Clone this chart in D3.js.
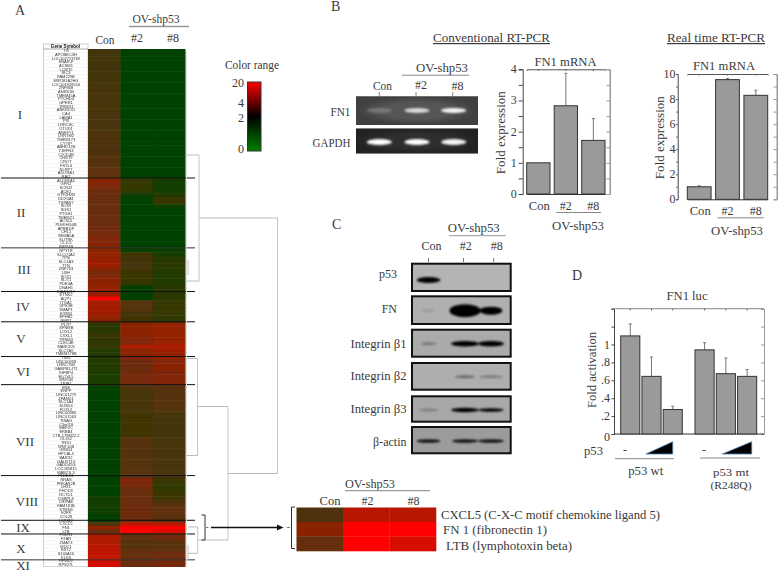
<!DOCTYPE html>
<html><head><meta charset="utf-8">
<script src="https://cdn.jsdelivr.net/npm/d3@7/dist/d3.min.js"></script>
<style>html,body{margin:0;padding:0;background:#fff}svg{display:block}</style></head>
<body><svg id="c" width="778" height="574"></svg>
<script>
// ---------- DATA ----------
const samples = ["Con","#2","#8"];
const geneSymbols = ["TG","APOBEC3H","LOC102723769","SNAR-F","ACSM1","LCMT2","RIC3","FAM229B","MIR181A2HG","LOC101928516","ZNF808","ANKS1B","TMEM45A","PTCHD4","GPER1","TRIM31","ANKRD31","CA4","LAMA1","PI3","LRRC8C","OTUD1","ANKFY1","LRRTM2","TMEM173","CYTIP","ABHD12B","YJEFN3","C2CD4B","CHST9","CROT","FSTL4","NLRP7","ADORA1","RAI2",
"ALDH1A1","GPR2","KCNJ2","ACE2","GTF2H2B","DDX3A1","TSPAN7","SOX9","SGK1","PTGS1","TMEM21","ACSL5","PLEKHG4B","APBB1IP","CHL1","SEMA5A","SLITRK","CLIC5","INPP4B",
"NPY1R","SLCO1A2","TPI0","SLC1A3","TTN","ZNF703","LBH","SOX1","SLIT1","PDE4A","DNAH5","KIAA1217",
"ETNK2","AQP1","ITGA2","UPK3B","SMAP1","E3S84","EPHB2","BMP7",
"PLTP","GPNMB","LOXL2","CXXL1","TRNM3","CLEC4E","MARCKS","SLC7A9","TMEM178B","TSS1",
"LINC00958","LRRC75B","GABPB1-IT1","IGFBP4","ELOVL5","WNT5B","TRIB1",
"ENE","ENPP","LINC01279","ZFAND1","SLC1A4","SUSD4","FOXL2","LINC00886","LINC01563","TINAG","C3orf18","MEF2C","ERBB4","CTB-178M22.2","OLIG2","TNS1","WNT10B","GRB14","HPCAL4","BARX2","GALNT13","GADD45G","LOC285815","MAB21L3","PLXDC1",
"NRAS","PRKAR2B","LHX1","FHOD3","RCTD1","DSBPL8","CRIPAK","FAM181B","STMN3","E2F8","COL28","LMNB2",
"CXCL5","FN1","LTB",
"FOLR1","FZAR","ZMAT3","MUC1","BST2","S100A16","KLK6",
"RFWD2","RPS27L"];
const conValues = [1.2,1.2,1.2,1.2,1.2,1.2,1.2,1.2,1.2,1.3,1.3,1.3,1.3,1.3,1.3,1.3,1.3,1.4,1.4,1.4,1.4,1.4,1.5,1.5,1.5,1.5,1.5,1.5,1.5,1.6,1.6,1.7,1.9,2,2,
3,2.8,2.6,2.3,2.2,2.2,2.2,2.2,2.2,2.2,2.2,2.2,2.3,2.3,2.5,2.6,2.8,2.8,3,
3,3.2,3.2,3.5,3.5,3,2.5,2.8,3,3,3.3,3.3,
3.5,20,3.6,3.6,3.8,3.5,3.3,3,
.7,.7,.7,1,.8,.8,.9,.6,.6,.6,
.6,.6,.6,.5,.5,.5,.5,
0,0,0,0,0,0,0,0,0,0,0,0,0,0,0,0,0,0,0,0,0,0,0,0,0,
0,0,0,0,.1,.3,.3,.3,.2,.2,0,0,
1.5,3.2,2.1,
4,4,4,4.5,4.5,5,5,
7,7];
const shp2Values = [0,0,0,0,0,0,0,0,0,0,0,0,0,0,0,0,0,0,0,0,0,0,0,0,0,0,0,0,0,0,0,0,0,0,0,
.9,.9,.9,.8,.2,0,0,0,0,0,0,0,0,0,0,0,0,0,0,
.2,1.1,1.2,1.2,1.2,1.2,1,1,1,.8,0,.1,
.1,.1,1.7,1.7,1.7,1.2,1.1,1.1,
3,3,3.1,3,2.8,2.8,4,3,3,2.8,
2.3,2.3,2.2,2.4,2.5,2.5,2.6,
1.6,1.3,1.3,1.3,1.3,1.3,1.3,1.2,1.1,1.1,1.1,1.1,1.1,1.1,1.7,1.7,1.6,1.6,1.6,1.6,1.6,1.7,1.7,1.7,1.7,
2.7,2.7,2.4,2.2,2.2,2.2,2.2,2.3,2.3,2.3,2.3,2.3,
4.5,20,20,
2,2,1.6,1.6,2,2.1,2.1,
2.2,2.2];
const shp8Values = [0,0,0,0,0,0,0,0,0,0,0,0,0,0,0,0,0,0,0,0,0,0,0,0,0,0,0,0,0,0,0,0,0,0,0,
.3,.3,.3,.3,.6,.9,.9,.2,0,0,0,0,0,0,0,0,0,0,0,
.2,.3,.6,.7,.7,.7,.6,.6,.6,.6,.7,.7,
.7,.7,.9,.9,1,.9,.8,.8,
3.3,3.3,3.2,3.2,3.2,3.4,4,3.5,3.3,3.2,
2.8,3,3,2.7,2.8,2.8,2.8,
1.8,1.6,1.6,1.8,1.8,1.8,1.6,1.3,1.3,1.2,1.2,1.2,1.2,1.2,1.3,1.3,1.3,1.3,1.3,1.4,1.4,1.4,1.4,1.4,1.4,
1,.9,.8,.9,1,1,1.5,1.8,2,2,1.8,1.6,
4.5,20,9,
2.3,2.3,1.8,1.7,2,2.3,2.3,
2.5,2.5];
const heatLevels = [0,1,2,3,4,6,20];
const heatColors = ["#004100","#3b3606","#61300a","#8a2406","#b01a04","#d01000","#ff0000"];
const sectionNames = ["I","II","III","IV","V","VI","VII","VIII","IX","X","XI"];
const sectionEnds = [34.9,53.8,65.6,73.8,83.2,90.8,115.4,127.5,131.2,138.2];
const legendValues = [0,2,4,20];
const insetGenes = ["CXCL5 (C-X-C motif chemokine ligand 5)","FN 1 (fibronectin 1)","LTB (lymphotoxin beta)"];
const insetCon = [1.5,3,2.1], insetShp2 = [4.5,20,20], insetShp8 = [4.5,20,8];

const gelNames = ["FN1","GAPDH"];
const gelFN1 = [.22,.78,.95], gelGAPDH = [1,1,.95];

const conventionalCats = ["Con","#2","#8"];
const conventionalMean = [1,2.83,1.72];
const conventionalUpper = [1,3.87,2.42];
const realtimeMean = [1,9.55,8.3];
const realtimeUpper = [1.08,9.65,8.7];

const blotNames = ["p53","FN","Integrin β1","Integrin β2","Integrin β3","β-actin"];
const blotIntensity = [[1,0,0],[.1,1,1],[.3,1,1],[0,.4,.3],[.25,1,1],[.9,.9,.9]];
const blotThickness = [[6,0,0],[4,13,8],[3,5.5,5.5],[0,3,3],[3,4.5,3.5],[3.5,3.5,3.5]];
const blotWidth = [[24,0,0],[14,31,23],[16,28,26],[0,21,24],[20,28,25],[24,26,26]];

const lucCats = ["-","low","high"];
const lucWt = [1.096,.644,.274], lucWtUpper = [1.23,.86,.31];
const lucMt = [.94,.674,.644], lucMtUpper = [1.02,.85,.72];
const lucTicks = [0,.2,.4,.6,.8,1,1.2,1.4];
const lucTickNames = ["0",".2",".4",".6",".8","1","",""];

// ---------- HELPERS ----------
const svg = d3.select("#c");
const defs = svg.append("defs");
const SERIF = "'Liberation Serif',serif", INK = "#3a3a3a";
function T(g,x,y,s,o={}){
  const e = g.append("text").attr("x",x).attr("y",y).text(s)
    .attr("font-family",o.font||SERIF).attr("font-size",o.size||12)
    .attr("fill",o.fill||INK).attr("text-anchor",o.anchor||"start");
  if(o.w) e.attr("textLength",o.w).attr("lengthAdjust","spacingAndGlyphs");
  if(o.rot) e.attr("transform",`rotate(${o.rot} ${x} ${y})`);
  if(o.deco) e.attr("text-decoration",o.deco);
  return e;
}
function L(g,x1,y1,x2,y2,c="#999",w=1){
  g.append("line").attr("x1",x1).attr("y1",y1).attr("x2",x2).attr("y2",y2).attr("stroke",c).attr("stroke-width",w);
}
[["b05",.4],["b1",1],["b15",1.5],["b2",2.2]].forEach(([id,s])=>{
  defs.append("filter").attr("id",id).attr("x","-30%").attr("y","-60%").attr("width","160%").attr("height","220%")
    .append("feGaussianBlur").attr("stdDeviation",s);
});
const heat = d3.scaleLinear().domain(heatLevels).range(heatColors).clamp(true);

// ---------- PANEL LETTERS ----------
[["A",15,15],["B",331,11],["C",332,229],["D",572,280]].forEach(d=>T(svg,d[1],d[2],d[0],{size:14}));

// ---------- PANEL A ----------
const A = svg.append("g");
const rowY = d3.scaleLinear().domain([0,geneSymbols.length]).range([49,566.5]);
const colX = d3.scaleBand().domain(samples).range([88,185]);
const labelsG = A.append("g").attr("filter","url(#b05)");
labelsG.append("rect").attr("x",43.5).attr("y",44).attr("width",44.5).attr("height",522.5).attr("fill","#fff").attr("stroke","#bbb").attr("stroke-width",.7);
L(labelsG,43.5,49,88,49,"#888",.7);
geneSymbols.forEach((g,i)=>{
  L(labelsG,44,rowY(i+1),88,rowY(i+1),"#e6e6e6",.4);
  T(labelsG,66,rowY(i+.5)+1.4,g,{size:4,font:"'Liberation Sans',sans-serif",anchor:"middle",fill:"#333"});
});
T(labelsG,65.5,48.2,"Gene Symbol",{size:4.6,font:"'Liberation Sans',sans-serif",anchor:"middle",fill:"#111"}).attr("font-weight","bold");
const heatG = A.append("g").attr("filter","url(#b05)");
[conValues,shp2Values,shp8Values].forEach((vals,c)=>{
  heatG.selectAll(null).data(vals).enter().append("rect")
    .attr("x",colX(samples[c])).attr("width",colX.bandwidth()+.5)
    .attr("y",(d,i)=>rowY(i)).attr("height",rowY(1)-rowY(0)+.5)
    .attr("fill",d=>heat(d));
});
sectionEnds.forEach((s,i)=>L(A,1,rowY(s),195,rowY(s),i===1||i===9?"#333":"#111",1));
const romanX=[20,21,24,23,21,23,25,27,23,21,23], romanY=[115,213,270,307,339,372,442,502,528,549,566];
sectionNames.forEach((n,i)=>T(A,romanX[i],romanY[i]+4,n,{anchor:"middle",size:13}));
T(A,156,23,"OV-shp53",{anchor:"middle",w:47,size:12});
L(A,129,26.5,189,26.5,"#999",1.3);
T(A,105,44,"Con",{anchor:"middle",w:19});
T(A,137,42,"#2",{anchor:"middle"});T(A,173,42,"#8",{anchor:"middle"});
// dendrogram
const dg = A.append("g");
[[186,155,199,155],[199,155,199,281],[186,281,199,281],[199,218,277.5,218],[277.5,218,277.5,473.5],
 [228,473.5,277.5,473.5],[228,406.5,228,540],[197.5,406.5,228,406.5],[197.5,358.5,197.5,455.5],[187,358.5,197.5,358.5],[187,455.5,197.5,455.5],
 [197.7,540,228,540],[197.7,527,197.7,553.3],[188,527,197.7,527],[188,553.3,197.7,553.3],[188,260,188,275],[188,545,188,560]]
 .forEach(d=>L(dg,d[0],d[1],d[2],d[3],d[1]===d[3]?"#bbb":"#c4c4c4",1));
L(dg,186.5,52,186.5,566,"#e0e0e0",1);
// colour legend
const grad = defs.append("linearGradient").attr("id","lg").attr("x1",0).attr("x2",0).attr("y1",0).attr("y2",1);
[["0%","#ff0000"],["50%","#000"],["100%","#008000"]].forEach(d=>grad.append("stop").attr("offset",d[0]).attr("stop-color",d[1]));
T(A,252,69,"Color range",{anchor:"middle",w:54});
A.append("rect").attr("x",247.5).attr("y",82).attr("width",13.5).attr("height",69).attr("fill","url(#lg)").attr("stroke","#333").attr("stroke-width",1);
const legendY = d3.scaleOrdinal().domain(legendValues).range([149,118,103,83]);
legendValues.forEach(v=>T(A,244,legendY(v)+4,v,{anchor:"end"}));
// bracket + arrow + inset
L(A,201.5,515,205,515,"#333");L(A,205,515,205,540,"#333");L(A,201.5,540,205,540,"#333");
L(A,206,527.5,208.5,527.5,"#777");L(A,211,527.5,279,527.5,"#111",1.3);
A.append("path").attr("d","M277 524.5L283.5 527.5L277 530.5Z").attr("fill","#111");
L(A,287,527.5,290,527.5,"#777");
L(A,295,507,291.5,507,"#333");L(A,291.5,507,291.5,548.5,"#333");L(A,291.5,548.5,295,548.5,"#333");
const inX = d3.scaleBand().domain(samples).range([296.5,436]);
const inY = d3.scaleBand().domain(insetGenes).range([507.5,551]);
const inG = A.append("g").attr("filter","url(#b05)");
[insetCon,insetShp2,insetShp8].forEach((vals,c)=>vals.forEach((v,r)=>{
  inG.append("rect").attr("x",inX(samples[c])).attr("y",inY(insetGenes[r])).attr("width",inX.bandwidth()+.3).attr("height",inY.bandwidth()+.3).attr("fill",heat(v));
}));
T(A,370,488,"OV-shp53",{anchor:"middle",w:50});
L(A,345,490.7,430,490.7,"#999",1.2);
T(A,330,505,"Con",{anchor:"middle",w:21});T(A,367.5,505,"#2",{anchor:"middle"});T(A,413.5,505,"#8",{anchor:"middle"});
const gx=[441,443,446], gw=[219,104,126], gy=[519,534,550];
insetGenes.forEach((g,i)=>T(A,gx[i],gy[i],g,{w:gw[i]}));

// ---------- PANEL B ----------
const B = svg.append("g");
T(B,433,42,"Conventional RT-PCR",{w:117,deco:"underline"});
T(B,667,42,"Real time RT-PCR",{w:98,deco:"underline"});
T(B,442,72,"OV-shp53",{anchor:"middle",w:52});
L(B,402,75.2,469,75.2,"#888",1);
T(B,382.5,90,"Con",{anchor:"middle",w:19});T(B,421,89,"#2",{anchor:"middle"});T(B,457.5,90,"#8",{anchor:"middle"});
const gelLane = d3.scalePoint().domain(samples).range([379.3,452.7]);
samples.forEach(s=>L(B,gelLane(s),92,gelLane(s),96.5,"#888",1));
const gelTop=[96.3,128.5], gelH=[28.7,25], gelFill=["#555","#2e2e2e"], gelBand=[[gelFN1,110.5],[gelGAPDH,142]], gelLabelY=[116,147];
const vg = defs.append("radialGradient").attr("id","vig");
vg.append("stop").attr("offset","55%").attr("stop-color","#000").attr("stop-opacity",0);
vg.append("stop").attr("offset","100%").attr("stop-color","#000").attr("stop-opacity",.25);
gelNames.forEach((n,i)=>{
  B.append("rect").attr("x",356).attr("y",gelTop[i]).attr("width",122).attr("height",gelH[i]).attr("fill",gelFill[i]);
  B.append("rect").attr("x",356).attr("y",gelTop[i]).attr("width",122).attr("height",gelH[i]).attr("fill","url(#vig)");
  const [vals,cy]=gelBand[i];
  const bg=B.append("g").attr("filter","url(#b1)");
  samples.forEach((s,j)=>{
    bg.append("ellipse").attr("cx",gelLane(s)+ (j?1:0)).attr("cy",cy).attr("rx",12.5).attr("ry",i?3:2.4).attr("fill","#fff").attr("fill-opacity",vals[j]);
  });
  T(B,350.5,gelLabelY[i],n,{anchor:"end",w:i?38:20});
});
function barChart(g,o){
  const y=d3.scaleLinear().domain([0,o.max]).range([o.bottom,o.top]);
  const x=d3.scaleBand().domain(conventionalCats).range(o.barRange).paddingInner(o.pad).paddingOuter(0);
  const minor=d3.range(0,o.max+.001,o.minor);
  const left=g.append("g").attr("transform",`translate(${o.left},0)`).call(d3.axisLeft(y).tickValues(minor).tickSize(o.tickLen).tickFormat(""));
  const right=g.append("g").attr("transform",`translate(${o.right},0)`).call(d3.axisLeft(y).tickValues(minor).tickSize(3.5).tickFormat(""));
  const top=g.append("g").attr("transform",`translate(0,${o.top})`).call(d3.axisBottom(x).tickSize(1.5).tickFormat(""));
  left.selectAll("path,line").attr("stroke","#444");right.selectAll("path,line").attr("stroke","#999");top.selectAll("path,line").attr("stroke","#555");
  const bot=g.append("g").attr("transform",`translate(0,${o.bottom})`).call(d3.axisBottom(x).tickSize(0).tickFormat(""));
  bot.selectAll("path").attr("stroke","#333");
  L(g,o.right,o.top,o.right,o.bottom,"#999",1);
  o.majors.forEach(v=>T(g,o.left-o.labelOff,y(v)+4,v,{anchor:"end",size:12}));
  const bars=g.append("g");
  o.mean.forEach((m,i)=>{
    const c=conventionalCats[i];
    if(o.upper[i]>m){
      L(bars,x(c)+x.bandwidth()/2,y(o.upper[i]),x(c)+x.bandwidth()/2,y(m),"#777",1);
      L(bars,x(c)+x.bandwidth()/2-1.5,y(o.upper[i]),x(c)+x.bandwidth()/2+1.5,y(o.upper[i]),"#777",1);
    }
    bars.append("rect").attr("x",x(c)).attr("y",y(m)).attr("width",x.bandwidth()).attr("height",o.bottom-y(m))
      .attr("fill","#9a9a9a").attr("stroke","#333").attr("stroke-width",1);
    T(g,x(c)+x.bandwidth()/2+ (i?0:1),o.bottom+15.5,c,{anchor:"middle",w:i?undefined:21});
  });
  T(g,o.titleX,o.titleY,"FN1 mRNA",{anchor:"middle",w:62});
  T(g,o.ylabX,(o.top+o.bottom)/2+1,"Fold expression",{anchor:"middle",rot:-90,w:83});
  L(g,x("#2")+2,o.bottom+18.5,x("#8")+x.bandwidth()-4,o.bottom+18.5,"#888",1);
  T(g,o.ovX,o.bottom+36,"OV-shp53",{anchor:"middle",w:52});
}
barChart(B,{left:522.7,right:610,top:69.3,bottom:194,max:4,minor:.5,majors:[0,1,2,3,4],tickLen:4,labelOff:6,
  barRange:[526.7,605],pad:.153,mean:conventionalMean,upper:conventionalUpper,titleX:565.5,titleY:66,ylabX:505.5,ovX:578});
barChart(B,{left:677.7,right:777,top:74,bottom:199.3,max:10,minor:1,majors:[0,2,4,6,8,10],tickLen:1.5,labelOff:2.2,
  barRange:[687.3,767.7],pad:.16,mean:realtimeMean,upper:realtimeUpper,titleX:724,titleY:70,ylabX:664,ovX:737});

// ---------- PANEL C ----------
const C = svg.append("g");
T(C,473.7,232,"OV-shp53",{anchor:"middle",w:52});
L(C,449,235.7,506,235.7,"#999",1);
T(C,431.5,250,"Con",{anchor:"middle",w:20});T(C,465.7,250,"#2",{anchor:"middle"});T(C,496.7,250,"#8",{anchor:"middle"});
const blotLane = d3.scalePoint().domain(samples).range([428.5,491]);
[428.5,463.5,493.7].forEach(x=>L(C,x,258,x,262,"#777",1));
const blotTop=[262.7,295.3,328.7,362,395.3,426], blotH=[29.3,29.7,29,28.7,27.4,28.3];
const blotBand=[280,310.7,343.7,376.7,410,441], blotLabelY=[278,313,348,380,413,446];
const blotBg=["#b4b4b4","#b0b0b0","#aaa","#aeaeae","#a8a8a8","#9c9c9c"];
const blotMid=465;
blotNames.forEach((n,r)=>{
  C.append("rect").attr("x",412).attr("y",blotTop[r]+1).attr("width",98.7).attr("height",blotH[r]-2)
    .attr("fill",blotBg[r]).attr("stroke","#111").attr("stroke-width",2);
  const bg=C.append("g").attr("filter","url(#b1)");
  samples.forEach((s,c)=>{
    if(!blotIntensity[r][c]) return;
    const cx = c===1? blotMid : blotLane(s);
    bg.append("ellipse").attr("cx",cx).attr("cy",blotBand[r]).attr("rx",blotWidth[r][c]/2).attr("ry",blotThickness[r][c]/2)
      .attr("fill","#000").attr("fill-opacity",blotIntensity[r][c]);
  });
  const w=n.startsWith("Integrin")?56:undefined;
  T(C,r<2?397:406.5,blotLabelY[r],n,{anchor:"end",w});
});

// ---------- PANEL D ----------
const D = svg.append("g");
T(D,687,300,"FN1 luc",{anchor:"middle",w:41});
const yLuc=d3.scaleLinear().domain([0,1.4]).range([434,308.7]);
const xWt=d3.scaleBand().domain(lucCats).range([620.7,682.3]).paddingInner(.1).paddingOuter(0);
const xMt=d3.scaleBand().domain(lucCats).range([695,756.7]).paddingInner(.1).paddingOuter(0);
const dl=D.append("g").attr("transform","translate(614,0)").call(d3.axisLeft(yLuc).tickValues(lucTicks).tickSize(2.5).tickFormat(""));
const dr=D.append("g").attr("transform","translate(764,0)").call(d3.axisLeft(yLuc).tickValues(lucTicks).tickSize(3).tickFormat(""));
dl.selectAll("path,line").attr("stroke","#444");dr.selectAll("path,line").attr("stroke","#999");
const dtop=[...xWt.domain().map(c=>xWt(c)+xWt.bandwidth()/2),...xMt.domain().map(c=>xMt(c)+xMt.bandwidth()/2)];
L(D,614,308.7,764,308.7,"#888",1);L(D,614,434,764,434,"#333",1);
dtop.forEach(x=>L(D,x,308.7,x,310.5,"#666",1));
lucTicks.forEach((v,i)=>{ if(lucTickNames[i]) T(D,610,yLuc(v)+4+(v===0?3:0),lucTickNames[i],{anchor:"end"}); });
[[xWt,lucWt,lucWtUpper],[xMt,lucMt,lucMtUpper]].forEach(([x,m,u])=>{
  lucCats.forEach((c,i)=>{
    const cx=x(c)+x.bandwidth()/2;
    L(D,cx,yLuc(u[i]),cx,yLuc(m[i]),"#777",1);
    L(D,cx-1.5,yLuc(u[i]),cx+1.5,yLuc(u[i]),"#777",1);
    D.append("rect").attr("x",x(c)).attr("y",yLuc(m[i])).attr("width",x.bandwidth()).attr("height",434-yLuc(m[i]))
      .attr("fill","#9a9a9a").attr("stroke","#333").attr("stroke-width",1);
  });
});
T(D,595.5,370,"Fold activation",{anchor:"middle",rot:-90,w:76});
T(D,584,455,"p53",{w:19});
T(D,625,454,"-",{anchor:"middle"});T(D,704,454,"-",{anchor:"middle"});
[[646,672.7],[722.3,751.7]].forEach(([a,b])=>D.append("path").attr("d",`M${a} 454L${b} 454L${b} 441.7Z`).attr("fill","#000").attr("stroke","#4a80b0").attr("stroke-width",.8));
L(D,615,458.7,674,458.7,"#888",1);L(D,700,458,760,458,"#888",1);
T(D,645.7,475,"p53 wt",{anchor:"middle",w:35});
T(D,731,476,"p53 mt",{anchor:"middle",w:36,size:11});
T(D,731,489,"(R248Q)",{anchor:"middle",w:41,size:11});
</script></body></html>
